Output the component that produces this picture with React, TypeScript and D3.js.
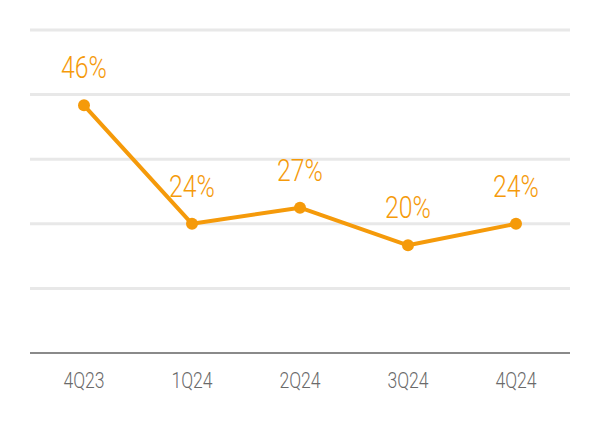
import React from "react";
import * as d3 from "d3";

const categories = ["4Q23", "1Q24", "2Q24", "3Q24", "4Q24"];
const values = [46, 24, 27, 20, 24];
const yTicks = [12, 24, 36, 48, 60];

export default function App() {
  const W = 600, H = 422;
  const left = 30, right = 570, top = 30, bottom = 353;
  const x = d3.scaleBand<string>().domain(categories).range([left, right]).padding(0);
  const y = d3.scaleLinear().domain([0, 60]).range([bottom, top]);
  const cx = (c: string) => (x(c) ?? 0) + x.bandwidth() / 2;
  const line = d3.line<number>().x((_, i) => cx(categories[i])).y((v) => y(v));
  const font = "Roboto, 'DejaVu Sans', sans-serif";
  return (
    <svg width={W} height={H} style={{ position: "absolute", left: 0, top: 0, background: "#fff" }}>
      {yTicks.map((t) => (
        <line key={t} x1={left} x2={right} y1={y(t)} y2={y(t)} stroke="#e8e8e8" strokeWidth={3} />
      ))}
      <line x1={left} x2={right} y1={bottom} y2={bottom} stroke="#8a8a8a" strokeWidth={2} />
      {categories.map((c) => (
        <text key={c} x={cx(c)} y={388} textAnchor="middle" fontFamily={font} fontSize={22}
          fill="#6a6a6a" style={{ fontWeight: 300 }} transform={`translate(${cx(c)},0) scale(0.8,1) translate(${-cx(c)},0)`}>
          {c}
        </text>
      ))}
      <path d={line(values) ?? ""} fill="none" stroke="#F59A0A" strokeWidth={4} strokeLinejoin="round" />
      {values.map((v, i) => (
        <circle key={i} cx={cx(categories[i])} cy={y(v)} r={6} fill="#F59A0A" />
      ))}
      {values.map((v, i) => {
        const px = cx(categories[i]);
        return (
          <text key={"l" + i} x={px} y={y(v) - 27} textAnchor="middle" fontFamily={font} fontSize={31}
            fill="#F59A0A" style={{ fontWeight: 300 }} transform={`translate(${px},0) scale(0.8,1) translate(${-px},0)`}>
            {v}%
          </text>
        );
      })}
    </svg>
  );
}
